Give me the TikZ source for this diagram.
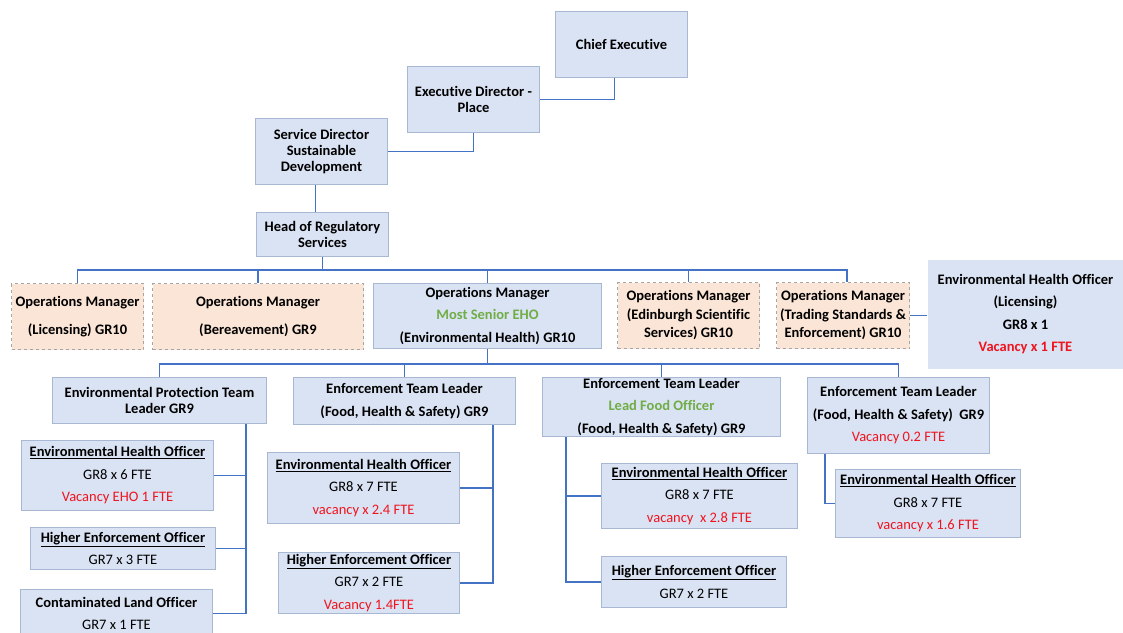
\documentclass[tikz,border=0pt]{standalone}
\usepackage{fontspec}
\setmainfont{Carlito}[Ligatures=NoCommon]
\usepackage{xcolor}
\usepackage{tikz}
\usetikzlibrary{positioning, calc}

\definecolor{boxfill}{HTML}{DAE3F3}
\definecolor{boxline}{HTML}{A9B8D2}
\definecolor{opsfill}{HTML}{FBE5D6}
\definecolor{opsline}{HTML}{A6A6A6}
\definecolor{linkblue}{HTML}{4472C4}
\definecolor{rolegreen}{HTML}{70AD47}
\definecolor{vacred}{HTML}{F0141E}

\newcommand{\rolegreen}[1]{\textcolor{rolegreen}{#1}}
\newcommand{\vacline}[1]{{\mdseries\textcolor{vacred}{#1}}}
\newcommand{\gradeline}[1]{{\mdseries #1}}

\tikzset{
  post/.style = {
    rectangle, draw=boxline, line width=1pt,
    fill=boxfill, inner sep=0pt, anchor=north west,
    align=center, font=\bfseries\fontsize{14.5}{16}\selectfont
  },
  postloose/.style = {
    post, font=\bfseries\fontsize{14.5}{22.5}\selectfont
  },
  opspost/.style = {
    post, fill=opsfill, draw=opsline, dashed
  },
  link/.style = {draw=linkblue, line width=1.5pt}
}

\begin{document}
\begin{tikzpicture}[
  x=1pt, y=-1pt   % picture measured in pixels, y downwards
]
\useasboundingbox (0,0) rectangle (1123,632);
\clip (0,0) rectangle (1123,632);

% ----- NODES (top of the chain) -----
\node[post, minimum width=132pt, minimum height=66pt] (ce)  at (555,11)  {Chief Executive};
\node[post, minimum width=132pt, minimum height=66pt] (edp) at (407,66)  {Executive Director -\\Place};
\node[post, minimum width=132pt, minimum height=66pt] (sd)  at (255,118) {Service Director\\Sustainable\\Development};
\node[post, minimum width=132pt, minimum height=44pt] (hrs) at (256,212) {Head of Regulatory\\Services};

% ----- NODES (operations managers) -----
\node[opspost, minimum width=132pt, minimum height=66pt,
      font=\bfseries\fontsize{14.5}{28}\selectfont] (omlic) at (11,283)
      {Operations Manager\\(Licensing) GR10};
\node[opspost, minimum width=211pt, minimum height=66pt,
      font=\bfseries\fontsize{14.5}{28}\selectfont] (omber) at (152,283)
      {Operations Manager\\(Bereavement) GR9};
\node[postloose, minimum width=228pt, minimum height=65pt] (omeh) at (373,283)
      {Operations Manager\\\rolegreen{Most Senior EHO}\\(Environmental Health) GR10};
\node[opspost, minimum width=142pt, minimum height=66pt,
      font=\bfseries\fontsize{14.5}{18.5}\selectfont] (omedi) at (617,282)
      {Operations Manager\\(Edinburgh Scientific\\Services) GR10};
\node[opspost, minimum width=133pt, minimum height=66pt,
      font=\bfseries\fontsize{14.5}{18.5}\selectfont] (omtsd) at (776,282)
      {Operations Manager\\(Trading Standards \&\\Enforcement) GR10};
\node[postloose, draw=none, minimum width=196pt, minimum height=109pt] (eholic) at (927,259)
      {Environmental Health Officer\\(Licensing)\\GR8 x 1\\\textcolor{vacred}{Vacancy x 1 FTE}};

% ----- NODES (team leaders) -----
\node[post, minimum width=214pt, minimum height=46pt] (eptl) at (52,377)
      {Environmental Protection Team\\Leader GR9};
\node[postloose, minimum width=222pt, minimum height=47pt] (etl1) at (293,377)
      {Enforcement Team Leader\\(Food, Health \& Safety) GR9};
\node[postloose, minimum width=238pt, minimum height=59pt] (etl2) at (542,377)
      {Enforcement Team Leader\\\rolegreen{Lead Food Officer}\\(Food, Health \& Safety) GR9};
\node[postloose, minimum width=182pt, minimum height=76pt] (etl3) at (807,377)
      {Enforcement Team Leader\\(Food, Health \& Safety)\ \ GR9\\\vacline{Vacancy 0.2 FTE}};

% ----- NODES (officers) -----
\node[postloose, minimum width=192pt, minimum height=70pt] (eho1) at (21,440)
      {\underline{Environmental Health Officer}\\\gradeline{GR8 x 6 FTE}\\\vacline{Vacancy EHO 1 FTE}};
\node[postloose, minimum width=185pt, minimum height=42pt] (heo1) at (30,527)
      {\underline{Higher Enforcement Officer}\\\gradeline{GR7 x 3 FTE}};
\node[postloose, minimum width=192pt, minimum height=48pt] (clo)  at (20,589)
      {Contaminated Land Officer\\\gradeline{GR7 x 1 FTE}};

\node[postloose, minimum width=192pt, minimum height=71pt] (eho2) at (267,452)
      {\underline{Environmental Health Officer}\\\gradeline{GR8 x 7 FTE}\\\vacline{vacancy x 2.4 FTE}};
\node[postloose, minimum width=181pt, minimum height=61pt] (heo2) at (278,552)
      {\underline{Higher Enforcement Officer}\\\gradeline{GR7 x 2 FTE}\\\vacline{Vacancy 1.4FTE}};

\node[postloose, minimum width=196pt, minimum height=65pt] (eho3) at (601,463)
      {\underline{Environmental Health Officer}\\\gradeline{GR8 x 7 FTE}\\\vacline{vacancy\ \ x 2.8 FTE}};
\node[postloose, minimum width=185pt, minimum height=51pt] (heo3) at (601,556)
      {\underline{Higher Enforcement Officer}\\\gradeline{GR7 x 2 FTE}};

\node[postloose, minimum width=185pt, minimum height=68pt] (eho4) at (835,469)
      {\underline{Environmental Health Officer}\\\gradeline{GR8 x 7 FTE}\\\vacline{vacancy x 1.6 FTE}};

% ----- CONNECTORS -----
\draw[link] ([xshift=-7pt]ce.south) |- (edp.east);
\draw[link] (edp.south) |- (sd.east);
\draw[link] ([xshift=-6pt]sd.south) -- ([xshift=-6pt]sd.south |- hrs.north);

% Head of Regulatory Services to the managers
\foreach \m/\dx in {omlic/0, omber/0, omeh/0, omedi/0, omtsd/4}
  \draw[link] (hrs.south) -- ++(0,13) -| ([xshift=\dx pt]\m.north);
\draw[link] (omtsd.east) -- (omtsd.east -| eholic.west);

% Environmental Health manager to the team leaders
\foreach \t in {eptl, etl1, etl2, etl3}
  \draw[link] (omeh.south) -- ++(0,15) -| (\t.north);

% team leaders to their officers
\foreach \o in {eho1, heo1, clo}
  \draw[link] ([xshift=-21pt]eptl.south east) |- (\o.east);
\foreach \o in {eho2, heo2}
  \draw[link] ([xshift=-23pt]etl1.south east) |- (\o.east);
\foreach \o in {eho3, heo3}
  \draw[link] ([xshift=24pt]etl2.south west) |- (\o.west);
\draw[link] ([xshift=18pt]etl3.south west) |- (eho4.west);

\end{tikzpicture}
\end{document}
